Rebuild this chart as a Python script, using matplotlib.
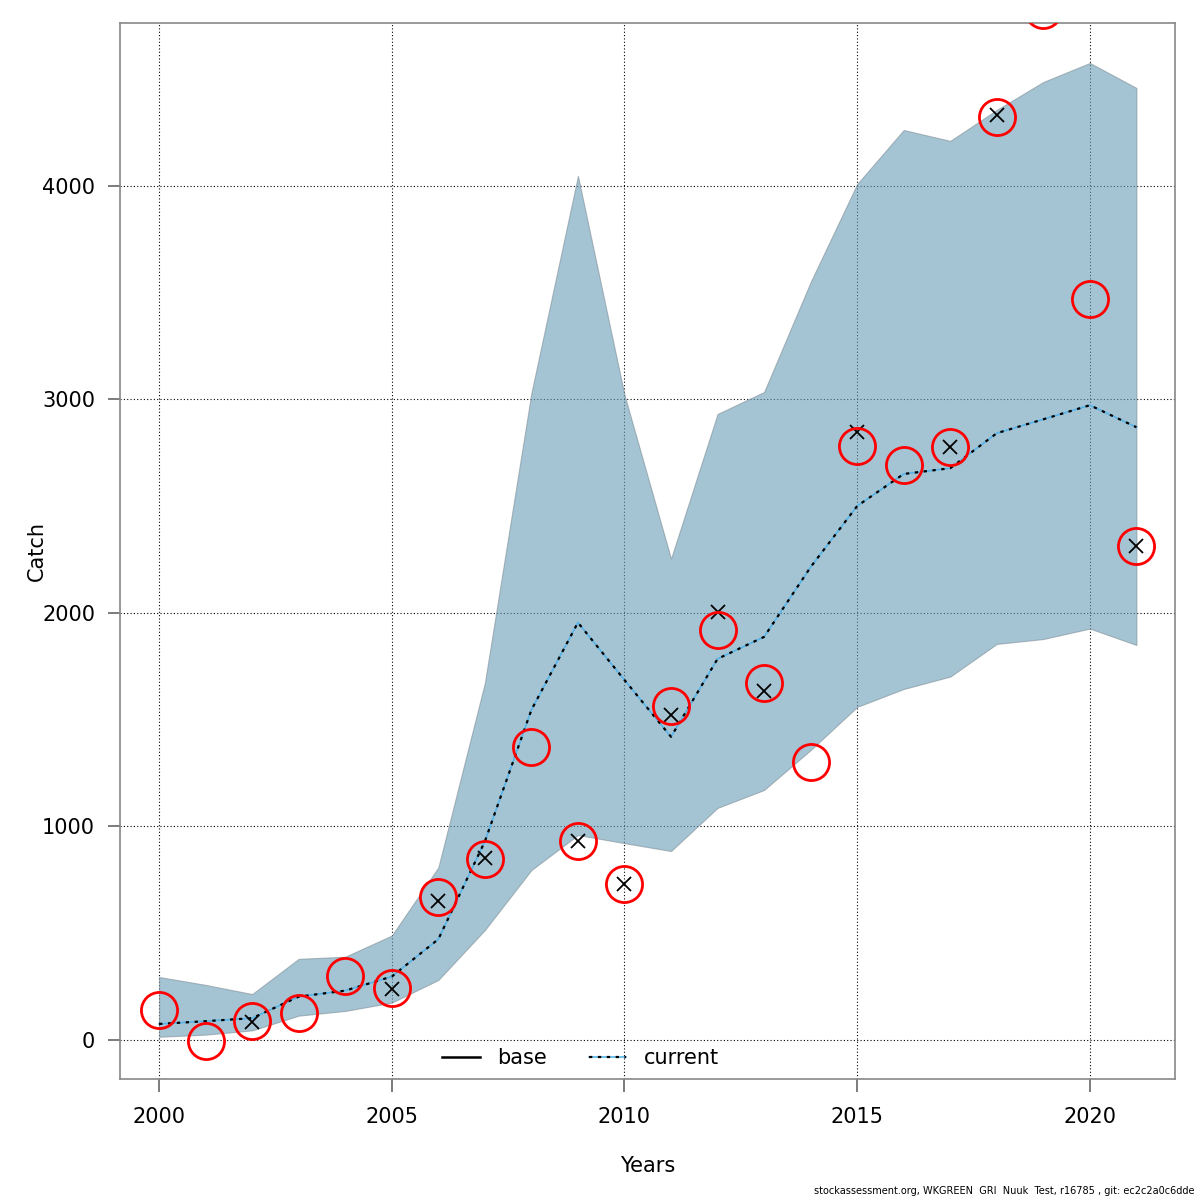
import matplotlib
matplotlib.use("Agg")
import matplotlib.pyplot as plt
import numpy as np
from matplotlib.lines import Line2D

# catch estimates per year
years = np.arange(2000, 2022)
upper = [295, 258, 215, 380, 390, 489, 808, 1672, 3030, 4047, 3021, 2254,
         2932, 3035, 3550, 4009, 4262, 4211, 4356, 4487, 4576, 4459]
lower = [15, 25, 45, 114, 136, 175, 281, 515, 796, 960, 922, 885,
         1087, 1171, 1358, 1560, 1644, 1702, 1855, 1878, 1927, 1850]
current = [75, 88, 102, 203, 231, 297, 472, 930, 1546, 1955, 1686, 1420,
           1785, 1888, 2215, 2501, 2651, 2678, 2842, 2907, 2973, 2870]
observed = [141, -3, 89, 126, 300, 244, 670, 848, 1372, 932, 731, 1564,
            1920, 1672, 1302, 2782, 2693, 2778, 4323, 4824, 3471, 2314]
base_pred = [np.nan, np.nan, 84, np.nan, np.nan, 239, 651, 850, np.nan, 932, 731, 1522,
             2005, 1635, np.nan, 2848, np.nan, 2778, 4332, np.nan, np.nan, 2314]

fig = plt.figure(figsize=(12, 12), dpi=100)
ax = fig.add_axes([0.1, 0.1008, 0.8792, 0.8800])

ax.set_xlim(1999.16, 2021.83)
ax.set_ylim(-183, 4763)

# grid first, the band sits on top with some transparency
for x in [2000, 2005, 2010, 2015, 2020]:
    ax.axvline(x, color="black", lw=0.8, ls=(0, (1, 2)), zorder=1)
for y in [0, 1000, 2000, 3000, 4000]:
    ax.axhline(y, color="black", lw=0.8, ls=(0, (1, 2)), zorder=1)

ax.fill_between(years, lower, upper, facecolor="#699DB7", alpha=0.6,
                edgecolor="#7f8f98", lw=0.8, zorder=2)

ax.plot(years, current, color="#56B4E9", lw=1.2, zorder=3)
ax.plot(years, current, color="black", lw=1.6, ls=(0, (1.5, 2.5)), zorder=4)

ax.plot(years, base_pred, ls="none", marker="x", ms=10, mew=1.3,
        color="black", zorder=5)
ax.plot(years, observed, ls="none", marker="o", ms=26, mew=2,
        mfc="none", mec="red", zorder=6, clip_on=True)

for s in ax.spines.values():
    s.set_color("#888888")
    s.set_linewidth(1.2)

ax.set_xticks([2000, 2005, 2010, 2015, 2020])
ax.set_yticks([0, 1000, 2000, 3000, 4000])
ax.tick_params(direction="out", length=9, width=1.2, color="#666666",
               labelsize=15)
ax.tick_params(axis="x", pad=11)
ax.tick_params(axis="y", pad=9)

ax.set_xlabel("Years", fontsize=15)
ax.set_ylabel("Catch", fontsize=15)
ax.xaxis.set_label_coords(0.5, -0.073)
ax.yaxis.set_label_coords(-0.069, 0.5)

h_base = Line2D([], [], color="black", lw=1.8)
h_cur = (Line2D([], [], color="#56B4E9", lw=1.2),
         Line2D([], [], color="black", lw=1.6, ls=(0, (1.5, 2.5))))
ax.legend([h_base, h_cur], ["base", "current"], loc="lower left",
          ncol=2, frameon=False, fontsize=15, handlelength=1.8,
          handletextpad=0.85, columnspacing=2.0, borderpad=0,
          bbox_to_anchor=(0.2956, 0.0006))

fig.text(0.995, 0.003, "stockassessment.org, WKGREEN  GRI  Nuuk  Test, r16785 , git: ec2c2a0c6dde",
         ha="right", va="bottom", fontsize=7)

fig.savefig("out.png", dpi=100)
